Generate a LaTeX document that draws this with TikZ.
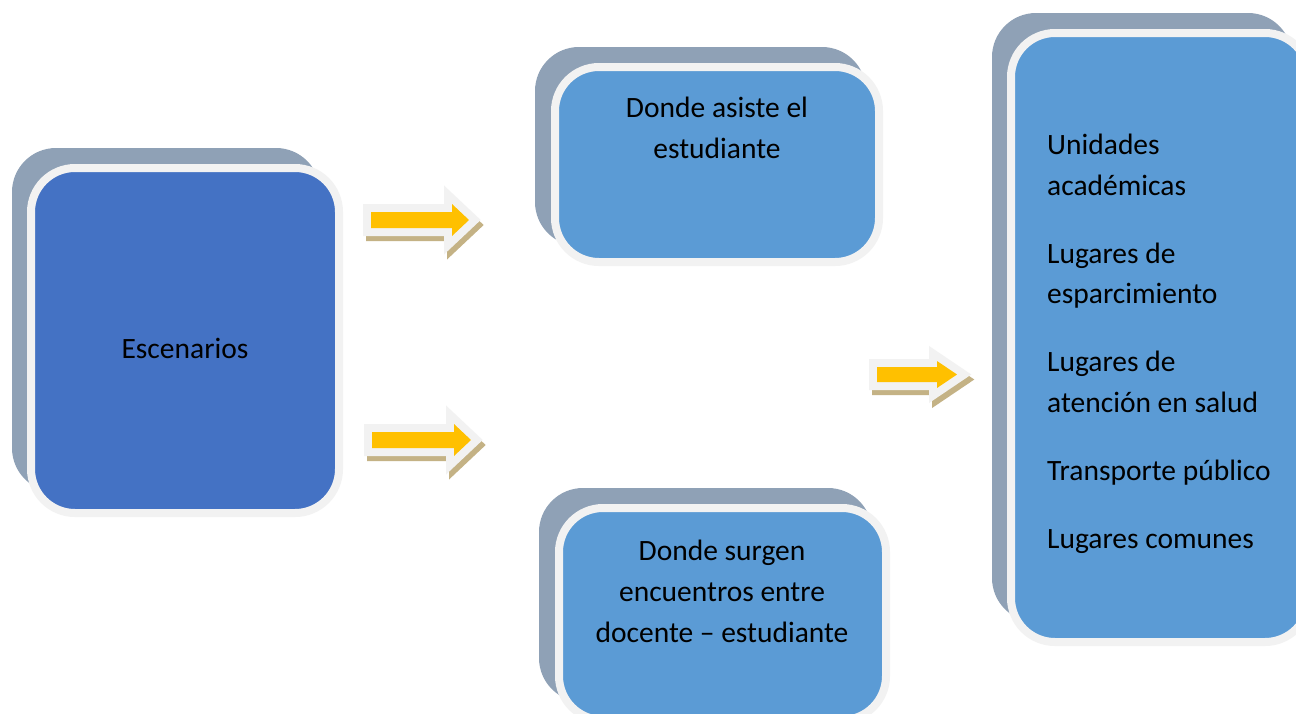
\documentclass[tikz,border=0pt]{standalone}
\usepackage{fontspec}
\setmainfont{Carlito}
\definecolor{bluedark}{HTML}{4472C4}
\definecolor{bluelight}{HTML}{5B9BD5}
\definecolor{shadowgray}{HTML}{8FA1B6}
\definecolor{rimgray}{HTML}{F2F2F2}
\definecolor{arrowyellow}{HTML}{FFC000}
\definecolor{arrowtan}{HTML}{C4B285}
\tikzset{
  backcard/.style={fill=shadowgray, draw=none, rounded corners=44pt},
  frontcard/.style={draw=rimgray, line width=8pt, rounded corners=44pt, inner sep=0pt, outer sep=0pt},
  cardtext/.style={font=\fontsize{29.5}{41}\selectfont, text=black, align=center, inner sep=0pt},
  listtext/.style={font=\fontsize{29.5}{40.5}\selectfont, text=black, align=left, inner sep=0pt},
  arrowshade/.style={draw=arrowtan, line width=16pt, line join=miter, fill=arrowtan},
  arrowrim/.style={draw=rimgray, line width=16pt, line join=miter, fill=rimgray},
  arrowbody/.style={fill=arrowyellow, draw=none},
}
% #1 x start, #2 y centre, #3 head base x, #4 tip x, #5 shaft half height, #6 head half height
\newcommand\yellowarrow[6]{%
  \path[arrowshade, shift={(3,5)}] (#1,#2-#5) -- (#3,#2-#5) -- (#3,#2-#6) -- (#4,#2) -- (#3,#2+#6) -- (#3,#2+#5) -- (#1,#2+#5) -- cycle;
  \path[arrowrim] (#1,#2-#5) -- (#3,#2-#5) -- (#3,#2-#6) -- (#4,#2) -- (#3,#2+#6) -- (#3,#2+#5) -- (#1,#2+#5) -- cycle;
  \path[arrowbody] (#1,#2-#5) -- (#3,#2-#5) -- (#3,#2-#6) -- (#4,#2) -- (#3,#2+#6) -- (#3,#2+#5) -- (#1,#2+#5) -- cycle;
}
\begin{document}
\begin{tikzpicture}[x=1pt, y=-1pt]
\useasboundingbox (0,0) rectangle (1296,713);
\clip (0,0) rectangle (1296,713);
\fill[white] (0,0) rectangle (1296,713);

% ---- Escenarios
\path[backcard] (12,148) rectangle (320,492);
\node[frontcard, fill=bluedark, minimum width=308pt, minimum height=345pt] (esc) at (185,340.5) {};
\node[cardtext, anchor=base] (esctext) at (185,358) {Escenarios};

% ---- Donde asiste el estudiante
\path[backcard] (535,47) rectangle (866,246);
\node[frontcard, fill=bluelight, minimum width=324pt, minimum height=195pt] (asiste) at (717,164.5) {};
\node[cardtext, anchor=base] (asistetext) at (717,158) {Donde asiste el\\estudiante};

% ---- Donde surgen encuentros
\path[backcard] (539,488) rectangle (872,702);
\node[frontcard, fill=bluelight, minimum width=327pt, minimum height=212pt] (surgen) at (722.5,614) {};
\node[cardtext, anchor=base] (surgentext) at (722,642) {Donde surgen\\encuentros entre\\docente -- estudiante};

% ---- Lugares
\path[backcard] (992,13) rectangle (1292,622);
\node[frontcard, fill=bluelight, minimum width=298pt, minimum height=609pt] (lugares) at (1160,337.5) {};
\node[listtext, anchor=base west] (lugarestext) at (1047,548)
  {Unidades\\académicas\\[27.5pt]Lugares de\\esparcimiento\\[27.5pt]Lugares de\\atención en salud\\[27.5pt]Transporte público\\[27.5pt]Lugares comunes};

% ---- arrows
\yellowarrow{371}{220}{452}{469}{8}{16}
\yellowarrow{372}{440}{454}{471}{8}{16}
\yellowarrow{877}{374.5}{937}{957}{7.5}{13.5}
\end{tikzpicture}
\end{document}
